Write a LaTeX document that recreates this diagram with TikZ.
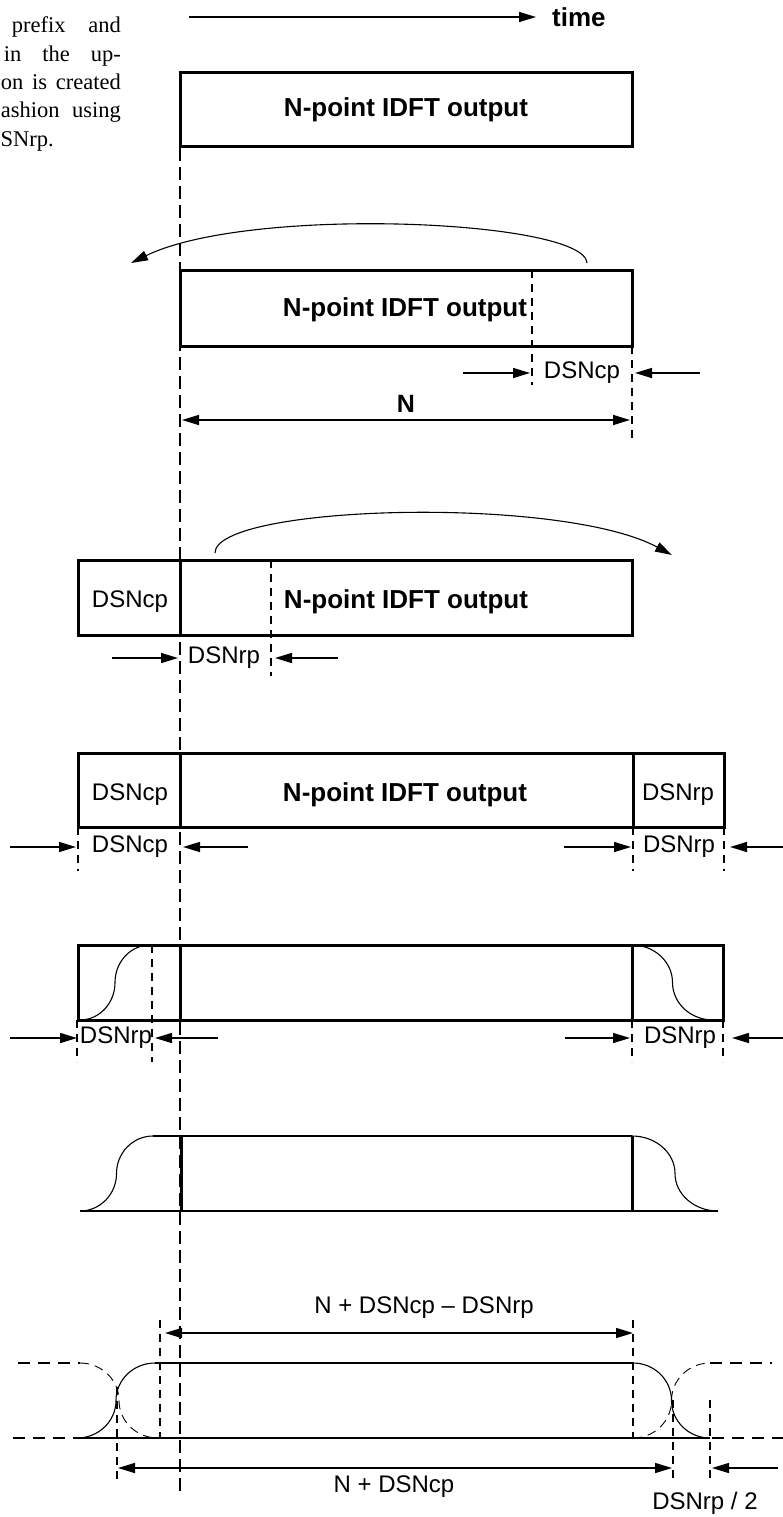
\documentclass[tikz,border=0pt]{standalone}
\usepackage{fontspec}
\setmainfont{Liberation Sans}
\newfontfamily\serifnote{Liberation Serif}
\usetikzlibrary{arrows.meta}
% S-shaped raised edge: horizontal tangents at the ends, vertical in the middle
\newcommand\scurve[4]{(#1,#2) .. controls ({#1+0.276*(#3-#1)},#2) and ({(#1+#3)/2},{#2+0.224*(#4-#2)}) .. ({(#1+#3)/2},{(#2+#4)/2}) .. controls ({(#1+#3)/2},{#4-0.224*(#4-#2)}) and ({#3-0.276*(#3-#1)},#4) .. (#3,#4)}
\begin{document}
\begin{tikzpicture}[x=1pt,y=-1pt,
  boxline/.style={line width=3pt},
  mainDash/.style={line width=1.8pt, dash pattern=on 13pt off 6pt},
  tickDash/.style={line width=1.4pt, dash pattern=on 8pt off 6pt},
  wideDash/.style={line width=1.6pt, dash pattern=on 12pt off 8pt},
  fineDash/.style={line width=0.9pt, dash pattern=on 9pt off 6pt},
  tip/.tip={Triangle[length=17pt,width=10pt]},
  arr/.style={line width=1.5pt, -tip},
  darr/.style={line width=1.5pt, tip-tip},
  carr/.style={line width=1.1pt, -tip},
  edge/.style={line width=1.1pt},
  bigtxt/.style={font=\fontsize{26}{30}\selectfont\bfseries, inner sep=0pt},
  lbl/.style={font=\fontsize{24}{28}\selectfont, inner sep=0pt},
  note/.style={font=\serifnote\fontsize{22.5}{27}\selectfont, inner sep=0pt}
]
\useasboundingbox (0,0) rectangle (783,1517);

% ---- cut-off paragraph at the top left
\node[note, anchor=base east] (p1) at (121,33) {\makebox[109pt][s]{prefix and}};
\node[note, anchor=base east] (p2) at (121,62) {\makebox[117pt][s]{in the up-}};
\node[note, anchor=base east] (p3) at (121,90) {\makebox[120pt][s]{on is created}};
\node[note, anchor=base east] (p4) at (121,118) {\makebox[120pt][s]{ashion using}};
\node[note, anchor=base east] (p5) at (54,147) {SNrp.};

% ---- time axis
\coordinate (t0) at (189,17);
\node[bigtxt, anchor=west] (time) at (552,17) {time};
\draw[arr] (t0) -- ([xshift=-16pt]time.west);

% ---- main dashed reference line
\coordinate (m0) at (180,148);
\coordinate (m1) at (180,1495);
\draw[mainDash] (m0) -- (m1);

% ---- row 1
\draw[boxline] (180,73) rectangle (632,147);
\node[bigtxt] (b1) at (406,110) {N-point IDFT output};

% ---- row 2
\coordinate (c1s) at (587,263);
\coordinate (c1e) at (131,263);
\draw[carr] (c1s) .. controls (585,220) and (250,205) .. (c1e);
\draw[boxline] (180,270) rectangle (632,346);
\node[bigtxt] (b2) at (405,310) {N-point IDFT output};
\draw[tickDash] (532,270) -- (532,385);
\draw[tickDash] (632,346) -- (632,438);
\node[lbl] (cp2) at (582,373) {DSNcp};
\coordinate (a2l) at (463,373);
\coordinate (a2r) at (700,373);
\draw[arr] (a2l) -- (530,373);
\draw[arr] (a2r) -- (635,373);
\node[font=\fontsize{25}{28}\selectfont\bfseries, inner sep=0pt] (nlab) at (406,404) {N};
\draw[darr] (182,420) -- (630,420);

% ---- row 3
\coordinate (c2s) at (215,553);
\coordinate (c2e) at (672,555);
\draw[carr] (c2s) .. controls (215,505) and (560,495) .. (c2e);
\draw[boxline] (78,560) rectangle (632,635);
\draw[boxline] (180,560) -- (180,635);
\draw[tickDash] (271,560) -- (271,676);
\node[lbl] (cp3) at (130,602) {DSNcp};
\node[bigtxt] (b3) at (406,602) {N-point IDFT output};
\node[lbl] (rp3) at (224,658) {DSNrp};
\draw[arr] (112,658) -- (178,658);
\draw[arr] (338,658) -- (275,658);

% ---- row 4
\draw[boxline] (78,753) rectangle (724,827);
\draw[boxline] (180,753) -- (180,827);
\draw[boxline] (633,753) -- (633,827);
\node[lbl] (cp4) at (130,795) {DSNcp};
\node[bigtxt] (b4) at (405,795) {N-point IDFT output};
\node[lbl] (rp4) at (678,795) {DSNrp};
\draw[tickDash] (78,827) -- (78,871);
\draw[tickDash] (633,827) -- (633,871);
\draw[tickDash] (724,827) -- (724,871);
\node[lbl] (cp4b) at (130,847) {DSNcp};
\node[lbl] (rp4b) at (679,847) {DSNrp};
\draw[arr] (10,847) -- (76,847);
\draw[arr] (248,847) -- (183,847);
\draw[arr] (564,847) -- (631,847);
\draw[arr] (784,847) -- (730,847);

% ---- row 5
\draw[boxline] (78,945) rectangle (723,1020);
\draw[boxline] (180,945) -- (180,1020);
\draw[boxline] (632,945) -- (632,1020);
\draw[edge] \scurve{80}{1020}{150}{945};
\draw[edge] \scurve{632}{945}{713}{1020};
\draw[tickDash] (152,945) -- (152,1062);
\draw[tickDash] (77,1020) -- (77,1062);
\draw[tickDash] (632,1020) -- (632,1062);
\draw[tickDash] (723,1020) -- (723,1062);
\node[lbl] (rp5a) at (116,1038) {DSNrp};
\node[lbl] (rp5b) at (680,1038) {DSNrp};
\draw[arr] (10,1038) -- (77,1038);
\draw[arr] (218,1038) -- (155,1038);
\draw[arr] (565,1038) -- (630,1038);
\draw[arr] (783,1038) -- (732,1038);

% ---- row 6 (windowed symbol)
\draw[line width=1.4pt] (153,1136) -- (632,1136);
\draw[line width=1.4pt] (80,1211) -- (718,1211);
\draw[edge] \scurve{80}{1211}{153}{1136};
\draw[edge] \scurve{632}{1136}{718}{1211};
\draw[boxline] (181,1136) -- (181,1211);
\draw[boxline] (632,1136) -- (632,1211);

% ---- row 7 (overlapping symbols)
\node[lbl] (len1) at (424,1308) {N + DSNcp -- DSNrp};
\draw[tickDash] (160,1320) -- (160,1438);
\draw[tickDash] (633,1320) -- (633,1438);
\draw[darr] (165,1333) -- (633,1333);
\draw[line width=1.3pt] (155,1363) -- (633,1363);
\draw[line width=2.2pt] (73,1438) -- (710,1438);
\draw[edge] \scurve{77}{1438}{155}{1363};
\draw[edge] \scurve{633}{1363}{710}{1438};
\draw[fineDash] \scurve{80}{1363}{158}{1438};
\draw[fineDash] \scurve{633}{1438}{710}{1363};
\draw[wideDash] (18,1363) -- (80,1363);
\draw[wideDash] (13,1438) -- (73,1438);
\draw[wideDash] (710,1363) -- (772,1363);
\draw[wideDash] (712,1438) -- (783,1438);
\draw[tickDash] (117,1387) -- (117,1481);
\draw[tickDash] (673,1400) -- (673,1481);
\draw[tickDash] (710,1400) -- (710,1481);
\draw[darr] (118,1468) -- (672,1468);
\draw[arr] (778,1468) -- (712,1468);
\node[lbl] (len2) at (394,1487) {N + DSNcp};
\node[lbl] (len3) at (705,1503) {DSNrp / 2};
\end{tikzpicture}
\end{document}
